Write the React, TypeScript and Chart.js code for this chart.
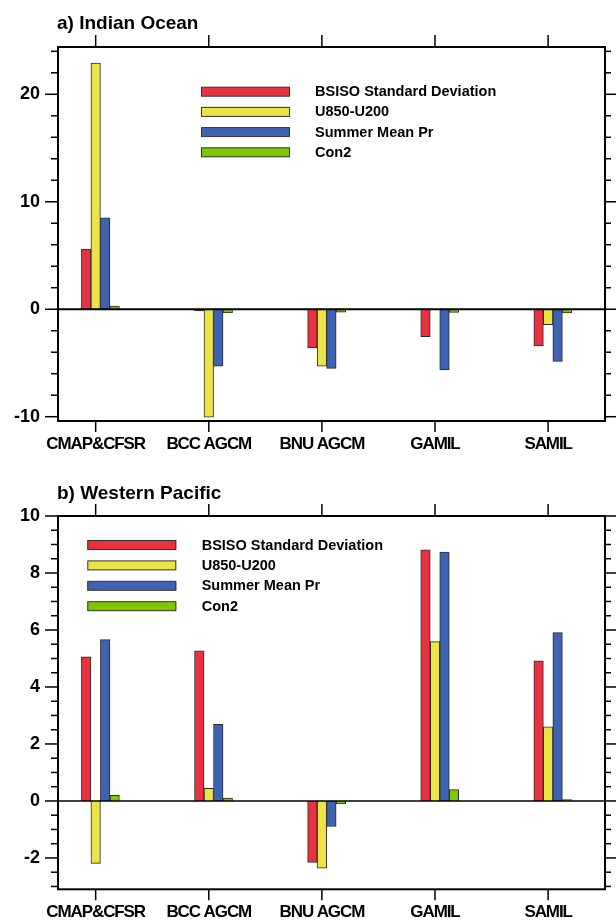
import React, { useEffect, useRef } from "react";
import { Chart, registerables } from "chart.js";

Chart.register(...registerables);

// ---------- data ----------
const categories = ["CMAP&CFSR", "BCC AGCM", "BNU AGCM", "GAMIL", "SAMIL"];
const seriesNames = ["BSISO Standard Deviation", "U850-U200", "Summer Mean Pr", "Con2"];
const seriesColors = ["#E8323F", "#ECE446", "#3F63B2", "#7FC800"];

// a) Indian Ocean
const ioBsiso = [5.6, -0.15, -3.6, -2.55, -3.42];
const ioU850 = [22.9, -10.05, -5.3, -0.05, -1.43];
const ioPr = [8.5, -5.3, -5.5, -5.65, -4.85];
const ioCon2 = [0.3, -0.35, -0.28, -0.3, -0.34];
const ioTicks = [-10, 0, 10, 20];

// b) Western Pacific
const wpBsiso = [5.06, 5.27, -2.16, 8.81, 4.92];
const wpU850 = [-2.19, 0.44, -2.36, 5.59, 2.6];
const wpPr = [5.66, 2.69, -0.89, 8.73, 5.91];
const wpCon2 = [0.2, 0.1, -0.1, 0.4, 0.05];
const wpTicks = [-2, 0, 2, 4, 6, 8, 10];

const FONT = '"Liberation Sans", Arial, Helvetica, sans-serif';

const panels = [
  {
    key: "io",
    heading: "a) Indian Ocean",
    values: [ioBsiso, ioU850, ioPr, ioCon2],
    yTicks: ioTicks,
    yMin: -10.4,
    yMax: 24.4,
    minorStep: 2,
    height: 460,
    top: 47,
    bottom: 421,
    headingY: 29,
    zeroWidth: 2,
    legend: { x: 201, y: 91.7, gap: 20.2, textX: 315 },
  },
  {
    key: "wp",
    heading: "b) Western Pacific",
    values: [wpBsiso, wpU850, wpPr, wpCon2],
    yTicks: wpTicks,
    yMin: -3.1,
    yMax: 10,
    minorStep: 0.5,
    height: 461,
    top: 56,
    bottom: 429.3,
    headingY: 39,
    zeroWidth: 1.5,
    legend: { x: 87.3, y: 85, gap: 20.4, textX: 201.7 },
  },
];

const decorPlugin = {
  id: "decor",
  afterDatasetsDraw(chart: any, _args: any, opts: any) {
    const ctx = chart.ctx as CanvasRenderingContext2D;
    const { left, right, top, bottom } = chart.chartArea;
    const ys = chart.scales.y;
    const xs = chart.scales.x;
    const line = (x1: number, y1: number, x2: number, y2: number) => {
      ctx.beginPath();
      ctx.moveTo(x1, y1);
      ctx.lineTo(x2, y2);
      ctx.stroke();
    };
    ctx.save();
    ctx.strokeStyle = "#000";
    // zero line
    ctx.lineWidth = opts.zeroWidth;
    const y0 = ys.getPixelForValue(0);
    line(left, y0, right, y0);
    // frame
    ctx.lineWidth = 2;
    ctx.strokeRect(left, top, right - left, bottom - top);
    // y ticks (major + minor, both sides)
    ctx.lineWidth = 1.5;
    const major = opts.majorStep;
    const minor = opts.minorStep;
    for (let k = Math.ceil(ys.min / minor - 1e-6); k * minor <= ys.max + 1e-6; k++) {
      const v = k * minor;
      const p = ys.getPixelForValue(v);
      const r = v / major;
      const isMajor = Math.abs(r - Math.round(r)) < 1e-6;
      line(left - (isMajor ? 13 : 7), p, left, p);
      line(right, p, right + (isMajor ? 12 : 6), p);
    }
    // x ticks top and bottom
    xs.ticks.forEach((t: any) => {
      const p = xs.getPixelForValue(t.value);
      line(p, top - 12, p, top);
      line(p, bottom, p, bottom + 11);
    });
    // heading
    ctx.fillStyle = "#000";
    ctx.textAlign = "left";
    ctx.textBaseline = "alphabetic";
    ctx.font = `bold 19px ${FONT}`;
    ctx.fillText(String(opts.heading), 57, opts.headingY);
    // legend
    const lg = opts.legend;
    const items = chart.data.datasets.filter((d: any) => d.label);
    ctx.font = `bold 14.5px ${FONT}`;
    ctx.textBaseline = "middle";
    items.forEach((d: any, i: number) => {
      const cy = lg.y + i * lg.gap;
      ctx.fillStyle = d.backgroundColor;
      ctx.fillRect(lg.x, cy - 4.5, 89, 9);
      ctx.lineWidth = 1;
      ctx.strokeStyle = "#333";
      ctx.strokeRect(lg.x + 0.5, cy - 4.5, 88, 9);
      ctx.fillStyle = "#000";
      ctx.fillText(d.label, lg.textX, cy + 0.5);
    });
    ctx.restore();
  },
};

function Panel({ cfg }: { cfg: any }) {
  const ref = useRef<HTMLCanvasElement>(null);
  useEffect(() => {
    const spacer = {
      label: "",
      data: categories.map((_, i) => ({ x: i, y: null })),
      backgroundColor: "rgba(0,0,0,0)",
      borderWidth: 0,
    };
    const datasets = [
      spacer,
      ...seriesNames.map((name, s) => ({
        label: name,
        data: categories.map((_, i) => ({ x: i, y: cfg.values[s][i] })),
        backgroundColor: seriesColors[s],
        borderColor: "#2a2a2a",
        borderWidth: 1,
      })),
    ];
    const chart = new Chart(ref.current as HTMLCanvasElement, {
      type: "bar",
      data: { datasets } as any,
      plugins: [decorPlugin],
      options: {
        responsive: false,
        animation: false,
        datasets: { bar: { barThickness: 9.5, grouped: true } },
        layout: { padding: { left: 0, right: 11, top: cfg.top, bottom: 0 } },
        plugins: {
          legend: { display: false },
          tooltip: { enabled: false },
          title: { display: false },
          decor: {
            heading: cfg.heading,
            headingY: cfg.headingY,
            zeroWidth: cfg.zeroWidth,
            majorStep: cfg.yTicks[1] - cfg.yTicks[0],
            minorStep: cfg.minorStep,
            legend: cfg.legend,
          },
        } as any,
        scales: {
          x: {
            type: "linear",
            offset: false,
            min: -0.333,
            max: 4.503,
            grid: { display: false, drawTicks: false },
            border: { display: false },
            afterBuildTicks: (s: any) => {
              s.ticks = categories.map((_, i) => ({ value: i }));
            },
            afterFit: (s: any) => {
              s.height = cfg.height - cfg.bottom;
              if (!s.__condensed) {
                const orig = s.drawLabels.bind(s);
                s.drawLabels = (area: any) => {
                  const c = s.ctx as any;
                  const prev = c.letterSpacing;
                  c.letterSpacing = "-1.1px";
                  orig(area);
                  c.letterSpacing = prev || "0px";
                };
                s.__condensed = true;
              }
            },
            ticks: {
              autoSkip: false,
              maxRotation: 0,
              minRotation: 0,
              padding: 13,
              color: "#000",
              font: { family: FONT, size: 17, weight: "bold" },
              callback: (v: any) => categories[v] ?? "",
            },
          },
          y: {
            type: "linear",
            min: cfg.yMin,
            max: cfg.yMax,
            grid: { display: false, drawTicks: false },
            border: { display: false },
            afterBuildTicks: (s: any) => {
              s.ticks = cfg.yTicks.map((v: number) => ({ value: v }));
            },
            afterFit: (s: any) => {
              s.width = 58;
            },
            ticks: {
              padding: 18,
              color: "#000",
              font: { family: FONT, size: 18, weight: "bold" },
              callback: (v: any) => String(v),
            },
          },
        } as any,
      },
    });
    return () => chart.destroy();
  }, []);
  return (
    <canvas
      ref={ref}
      width={616}
      height={cfg.height}
      style={{ display: "block", width: 616, height: cfg.height }}
    />
  );
}

export default function App() {
  return (
    <div
      style={{
        position: "absolute",
        left: 0,
        top: 0,
        width: 616,
        height: 921,
        background: "#fff",
      }}
    >
      {panels.map((p) => (
        <Panel key={p.key} cfg={p} />
      ))}
    </div>
  );
}
